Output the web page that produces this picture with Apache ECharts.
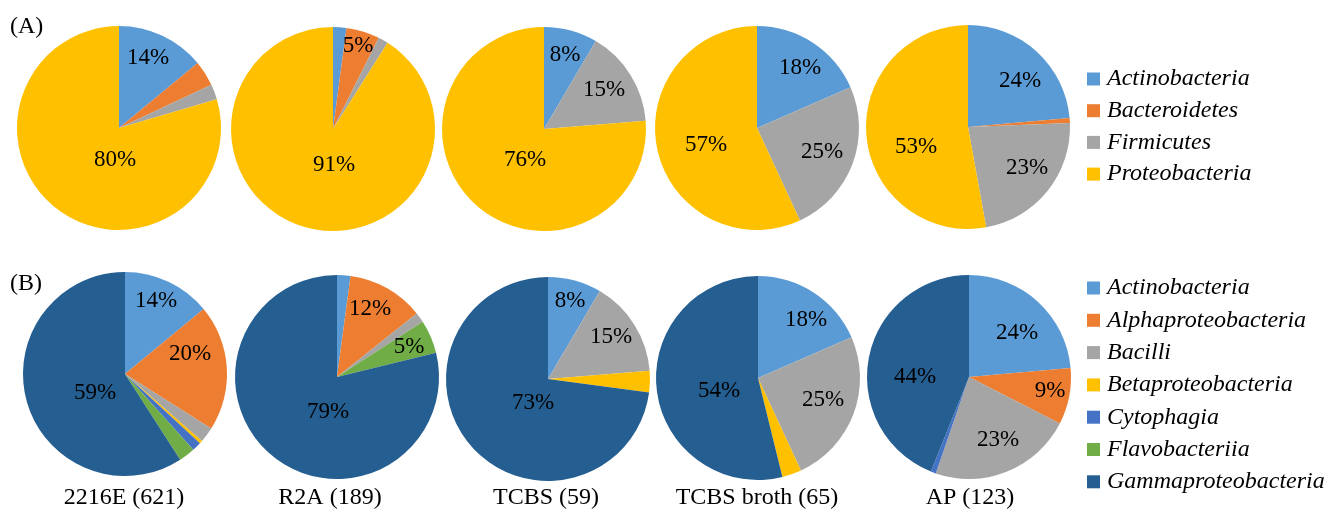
<!DOCTYPE html>
<html>
<head>
<meta charset="utf-8">
<script src="https://cdn.jsdelivr.net/npm/echarts@6/dist/echarts.min.js"></script>
<style>
  html, body { margin: 0; padding: 0; background: #fff; }
  #chart { width: 1327px; height: 511px; }
</style>
</head>
<body>
<div id="chart"></div>
<script>
// Isolation media with isolate counts
const media = ['2216E', 'R2A', 'TCBS', 'TCBS broth', 'AP'];
const totals = [621, 189, 59, 65, 123];

// (A) phylum level, isolate counts per medium
const phyla = ['Actinobacteria', 'Bacteroidetes', 'Firmicutes', 'Proteobacteria'];
const phylumCounts = [
  [87, 25, 15, 494],
  [4, 10, 3, 172],
  [5, 0, 9, 45],
  [12, 0, 16, 37],
  [29, 1, 28, 65]
];

// (B) class level, isolate counts per medium
const classes = ['Actinobacteria', 'Alphaproteobacteria', 'Bacilli', 'Betaproteobacteria',
                 'Cytophagia', 'Flavobacteriia', 'Gammaproteobacteria'];
const classCounts = [
  [87, 124, 15, 3, 9, 16, 367],
  [4, 23, 3, 0, 0, 10, 149],
  [5, 0, 9, 2, 0, 0, 43],
  [12, 0, 16, 2, 0, 0, 35],
  [29, 11, 28, 0, 1, 0, 54]
];

// ---- styling / layout ----
const colorOf = {
  Actinobacteria: '#5B9BD5',
  Bacteroidetes: '#ED7D31',
  Firmicutes: '#A5A5A5',
  Proteobacteria: '#FFC000',
  Alphaproteobacteria: '#ED7D31',
  Bacilli: '#A5A5A5',
  Betaproteobacteria: '#FFC000',
  Cytophagia: '#4472C4',
  Flavobacteriia: '#70AD47',
  Gammaproteobacteria: '#255E91'
};
const serif = '"Liberation Serif", "Times New Roman", serif';
const radius = 102;
const centres = [
  [[119, 128], [333, 129], [544, 129], [757, 128], [968, 127]],
  [[125, 374], [337, 377], [548, 379], [758, 378], [969, 377]]
];

// percentage label anchors, offsets from each pie centre (px)
const labelSpotsA = [
  [[29, -70], null, null, [-4, 32]],
  [null, [25, -83], null, [1, 36]],
  [[21, -74], null, [60, -39], [-19, 31]],
  [[43, -60], null, [65, 24], [-51, 17]],
  [[52, -46], null, [59, 41], [-52, 20]]
];
const labelSpotsB = [
  [[31, -73], [65, -20], null, null, null, null, [-30, 19]],
  [null, [33, -68], null, null, null, [72, -30], [-9, 35]],
  [[22, -78], null, [63, -42], null, null, null, [-15, 24]],
  [[48, -58], null, [65, 22], null, null, null, [-39, 13]],
  [[48, -44], [81, 14], [29, 63], null, null, null, [-54, 0]]
];

const series = [];
const spotTable = [];
const centreTable = [];

function addRow(names, counts, spots, row) {
  counts.forEach((vals, i) => {
    const sum = vals.reduce((a, b) => a + b, 0);
    const c = centres[row][i];
    series.push({
      type: 'pie',
      name: media[i] + (row === 0 ? ' phylum' : ' class'),
      center: c,
      radius: radius,
      startAngle: 90,
      clockwise: true,
      avoidLabelOverlap: false,
      silent: true,
      itemStyle: { borderWidth: 0 },
      label: {
        position: 'inside',
        color: '#000',
        fontFamily: serif,
        fontSize: 23,
        formatter: p => Math.round(p.percent) + '%'
      },
      labelLine: { show: false },
      labelLayout: function (p) {
        const s = spotTable[p.seriesIndex][p.dataIndex];
        const cc = centreTable[p.seriesIndex];
        if (!s) return {};
        return {
          x: cc[0] + s[0],
          y: cc[1] + s[1],
          align: 'center',
          verticalAlign: 'middle'
        };
      },
      data: names.map((n, k) => ({
        name: n,
        value: vals[k],
        itemStyle: { color: colorOf[n] },
        label: { show: vals[k] / sum >= 0.05 }
      }))
    });
    spotTable.push(spots[i]);
    centreTable.push(c);
  });
}
addRow(phyla, phylumCounts, labelSpotsA, 0);
addRow(classes, classCounts, labelSpotsB, 1);

const legendBase = {
  orient: 'vertical',
  left: 1082,
  icon: 'rect',
  itemWidth: 13,
  itemHeight: 13,
  selectedMode: false,
  textStyle: {
    fontFamily: serif,
    fontStyle: 'italic',
    fontSize: 24,
    lineHeight: 24,
    color: '#000',
    padding: [0, 0, 0, 2]
  }
};

const graphic = [
  { type: 'text', left: 10, top: 15, style: { text: '(A)', font: '24px ' + serif, fill: '#000' } },
  { type: 'text', left: 10, top: 272, style: { text: '(B)', font: '24px ' + serif, fill: '#000' } }
];
const captionX = [124, 330, 546, 757, 970];
media.forEach((m, i) => {
  graphic.push({
    type: 'text',
    x: captionX[i],
    y: 498,
    style: {
      text: m + ' (' + totals[i] + ')',
      font: '24px ' + serif,
      fill: '#000',
      align: 'center',
      verticalAlign: 'middle'
    }
  });
});

const chart = echarts.init(document.getElementById('chart'));
chart.setOption({
  animation: false,
  backgroundColor: '#fff',
  legend: [
    Object.assign({}, legendBase, { top: 62, itemGap: 7.7, data: phyla }),
    Object.assign({}, legendBase, { top: 271, itemGap: 8.3, data: classes })
  ],
  graphic: graphic,
  series: series
});
</script>
</body>
</html>
